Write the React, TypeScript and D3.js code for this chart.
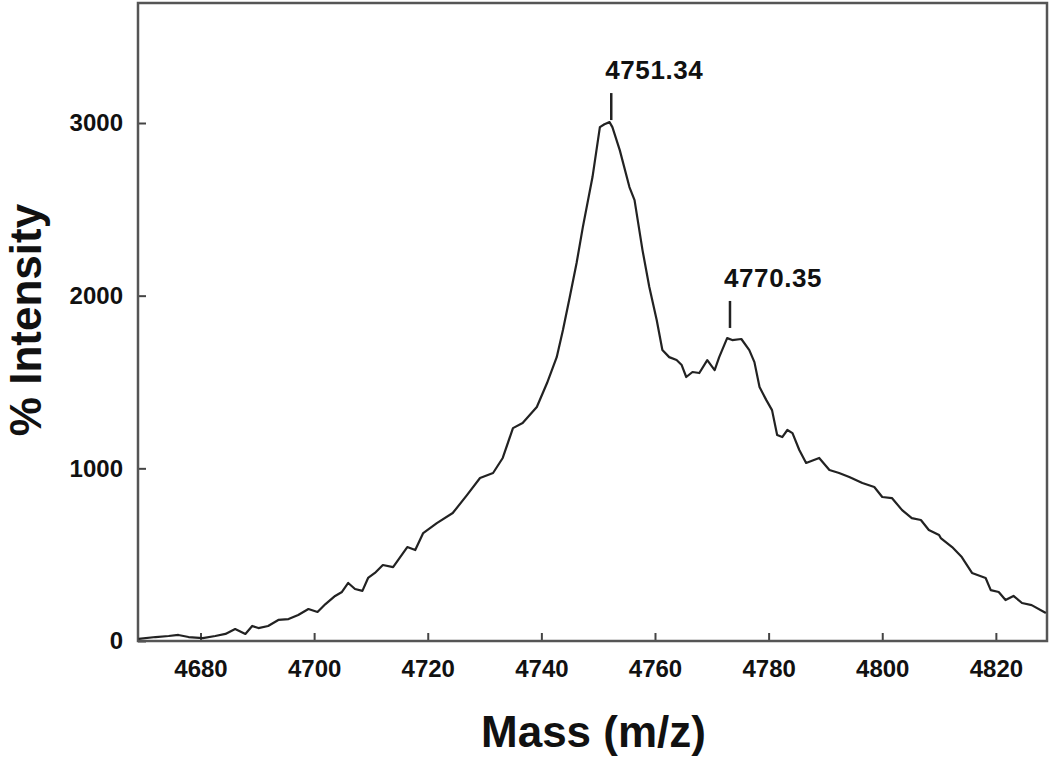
import React, { useEffect, useRef } from "react";
import * as d3 from "d3";

// spectrum (m/z, intensity)
const mass = [
  4669.1, 4672.1, 4674.4, 4676.1, 4677.9, 4680.4, 4682.6, 4684.4, 4686.1, 4687.9,
  4689.1, 4690.2, 4691.9, 4693.7, 4695.5, 4697.2, 4699.0, 4700.6, 4702.0, 4703.7,
  4704.9, 4706.0, 4707.2, 4708.5, 4709.5, 4710.7, 4712.1, 4713.9, 4716.4, 4717.8,
  4719.2, 4721.6, 4724.4, 4726.9, 4729.2, 4731.5, 4733.2, 4735.0, 4736.7, 4739.2,
  4741.0, 4742.7, 4743.8, 4745.0, 4746.2, 4747.3, 4749.0, 4750.3, 4751.1, 4752.0,
  4752.5, 4753.8, 4755.5, 4756.4, 4757.8, 4759.0, 4760.3, 4761.3, 4762.5, 4763.8,
  4764.7, 4765.5, 4766.6, 4767.8, 4769.2, 4770.5, 4771.3, 4772.7, 4773.6, 4775.2,
  4776.6, 4777.5, 4778.4, 4779.6, 4780.6, 4781.5, 4782.4, 4783.3, 4784.2, 4785.4,
  4786.6, 4788.9, 4790.7, 4792.4, 4794.2, 4796.5, 4798.6, 4800.0, 4801.7, 4803.5,
  4805.2, 4806.8, 4808.2, 4810.0, 4810.3, 4812.3, 4814.0, 4815.8, 4818.2, 4819.1,
  4820.5, 4821.7, 4823.1, 4824.6, 4826.3, 4828.8,
];
const intensity = [
  12, 23, 29, 35, 23, 17, 29, 41, 69, 41,
  87, 75, 87, 122, 127, 151, 185, 168, 214, 261,
  284, 336, 301, 290, 365, 394, 440, 428, 544, 527,
  625, 683, 741, 845, 944, 973, 1060, 1233, 1262, 1355,
  1494, 1644, 1801, 1992, 2189, 2397, 2687, 2976, 2993, 3005,
  2976, 2843, 2629, 2553, 2264, 2050, 1859, 1685, 1644, 1627,
  1598, 1529, 1558, 1552, 1627, 1569, 1644, 1754, 1743, 1749,
  1685, 1615, 1471, 1395, 1337, 1193, 1181, 1222, 1204, 1106,
  1031, 1060, 990, 973, 950, 915, 892, 834, 828, 758,
  712, 701, 643, 614, 596, 544, 486, 394, 365, 295,
  284, 237, 261, 220, 208, 162,
];

const xTicks = [4680, 4700, 4720, 4740, 4760, 4780, 4800, 4820];
const yTicks = [0, 1000, 2000, 3000];

const peakLabels = ["4751.34", "4770.35"];
const peakMass = [4752.3, 4773.2];
const peakBase = [3017, 1813];

const App = () => {
  const ref = useRef<SVGSVGElement>(null);

  useEffect(() => {
    const width = 1050;
    const height = 760;
    const margin = { top: 3, right: 3, bottom: 119, left: 138 };
    const font = "'Liberation Sans', Arial, sans-serif";

    const svg = d3.select(ref.current);
    svg.selectAll("*").remove();

    const x = d3
      .scaleLinear()
      .domain([4669, 4829])
      .range([margin.left, width - margin.right]);
    const y = d3
      .scaleLinear()
      .domain([0, 3695])
      .range([height - margin.bottom, margin.top]);

    // x axis, ticks pointing in
    const gx = svg
      .append("g")
      .attr("transform", `translate(0,${height - margin.bottom})`)
      .call(
        d3
          .axisBottom(x)
          .tickValues(xTicks)
          .tickFormat(d3.format("d"))
          .tickSizeInner(-8)
          .tickSizeOuter(0)
          .tickPadding(19)
      );
    gx.select(".domain").remove();

    const gy = svg
      .append("g")
      .attr("transform", `translate(${margin.left},0)`)
      .call(
        d3
          .axisLeft(y)
          .tickValues(yTicks)
          .tickFormat(d3.format("d"))
          .tickSizeInner(-8)
          .tickSizeOuter(0)
          .tickPadding(15)
      );
    gy.select(".domain").remove();

    svg
      .selectAll(".tick line")
      .attr("stroke", "#444")
      .attr("stroke-width", 2);
    svg
      .selectAll(".tick text")
      .attr("fill", "#111")
      .style("font-family", font)
      .style("font-weight", "bold")
      .style("font-size", "24px");

    // frame
    svg
      .append("rect")
      .attr("x", margin.left)
      .attr("y", margin.top)
      .attr("width", width - margin.left - margin.right)
      .attr("height", height - margin.top - margin.bottom)
      .attr("fill", "none")
      .attr("stroke", "#555")
      .attr("stroke-width", 2.5);

    // spectrum
    const line = d3
      .line<number>()
      .x((d, i) => x(mass[i]))
      .y((d) => y(d));

    svg
      .append("path")
      .datum(intensity)
      .attr("d", line)
      .attr("fill", "none")
      .attr("stroke", "#222")
      .attr("stroke-width", 2.2)
      .attr("stroke-linejoin", "round");

    // peak markers + labels
    peakLabels.forEach((lab, i) => {
      const px = x(peakMass[i]);
      const py = y(peakBase[i]);
      svg
        .append("line")
        .attr("x1", px)
        .attr("x2", px)
        .attr("y1", py)
        .attr("y2", py - 27)
        .attr("stroke", "#222")
        .attr("stroke-width", 2.5);
      svg
        .append("text")
        .attr("x", px - 6)
        .attr("y", py - 41)
        .attr("fill", "#111")
        .style("font-family", font)
        .style("font-weight", "bold")
        .style("font-size", "26px")
        .style("letter-spacing", "0.6px")
        .text(lab);
    });

    // axis titles
    svg
      .append("text")
      .attr("x", (margin.left + width - margin.right) / 2 + 1)
      .attr("y", 747)
      .attr("text-anchor", "middle")
      .attr("fill", "#111")
      .style("font-family", font)
      .style("font-weight", "bold")
      .style("font-size", "44px")
      .text("Mass (m/z)");

    svg
      .append("text")
      .attr("transform", "translate(41,320) rotate(-90)")
      .attr("text-anchor", "middle")
      .attr("fill", "#111")
      .style("font-family", font)
      .style("font-weight", "bold")
      .style("font-size", "44px")
      .text("% Intensity");
  }, []);

  return (
    <svg
      ref={ref}
      width={1050}
      height={760}
      style={{ position: "absolute", left: 0, top: 0, background: "#fff" }}
    ></svg>
  );
};

export default App;
